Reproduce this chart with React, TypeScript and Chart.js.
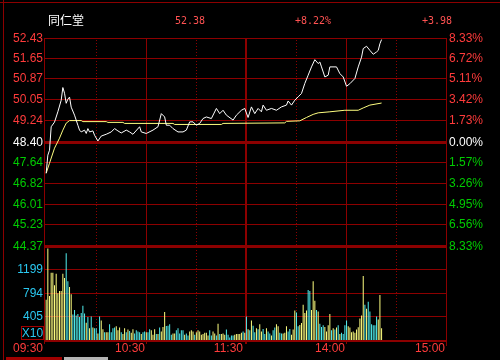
import { useEffect, useRef } from "react";
import { Chart, registerables } from "chart.js";

Chart.register(...registerables);

// ---- header ----
const stockName = "同仁堂";
const lastPrice = "52.38";
const changePct = "+8.22%";
const changeAmt = "+3.98";
const prevClose = 48.4;

// ---- axis ticks ----
const priceTicks = [52.43, 51.65, 50.87, 50.05, 49.24, 48.4, 47.64, 46.82, 46.01, 45.23, 44.37];
const priceTickLabels = ["52.43", "51.65", "50.87", "50.05", "49.24", "48.40", "47.64", "46.82", "46.01", "45.23", "44.37"];
const pctTickLabels = ["8.33%", "6.72%", "5.11%", "3.42%", "1.73%", "0.00%", "1.57%", "3.26%", "4.95%", "6.56%", "8.33%"];
const volTicks = [405, 794, 1199];
const volTop = 1598;
const volUnit = "X10";
const timeTicks = [0, 60, 120, 180, 240];
const timeLabels = ["09:30", "10:30", "11:30", "14:00", "15:00"];
const halfHourTicks = [30, 90, 150, 210];

// ---- price line (minute index, price) ----
const priceMinutes = [0, 1, 2, 3, 5, 7, 9, 10, 11, 12, 13, 14, 15, 17, 19, 20, 21, 23, 24, 25, 26, 28, 29, 31, 33, 36, 39, 41, 43, 45, 48, 50, 52, 56, 57, 60, 64, 67, 69, 71, 72, 74, 76, 79, 82, 84, 86, 88, 90, 92, 94, 96, 99, 102, 104, 106, 108, 112, 114, 117, 119, 121, 123, 125, 127, 129, 130, 132, 135, 138, 141, 144, 145, 147, 149, 151, 153, 155, 157, 159, 161, 163, 164, 165, 167, 169, 170, 174, 176, 178, 180, 182, 185, 187, 189, 190, 192, 194, 196, 198, 199, 200, 201];
const priceValues = [47.19, 47.89, 48.08, 48.99, 49.17, 49.57, 50.02, 50.51, 50.29, 49.9, 50.06, 50.14, 49.75, 49.44, 49.05, 48.86, 48.79, 48.86, 48.73, 48.92, 48.79, 48.83, 48.66, 48.44, 48.63, 48.7, 48.79, 48.92, 48.83, 48.75, 48.86, 48.79, 48.7, 48.99, 48.79, 48.73, 48.86, 48.99, 49.5, 49.37, 49.05, 49.05, 48.92, 48.79, 48.79, 48.86, 49.18, 49.18, 49.05, 49.12, 49.31, 49.37, 49.31, 49.7, 49.5, 49.63, 49.44, 49.25, 49.44, 49.63, 49.7, 49.35, 49.76, 49.5, 49.7, 49.57, 49.83, 49.63, 49.7, 49.63, 49.76, 49.83, 49.99, 49.83, 50.02, 50.15, 50.28, 50.67, 50.99, 51.31, 51.59, 51.44, 51.5, 51.31, 50.92, 50.99, 51.31, 51.31, 51.05, 50.92, 50.56, 50.66, 50.86, 51.31, 51.69, 52.02, 52.11, 51.95, 51.8, 51.89, 51.95, 52.21, 52.37];

// ---- average price line ----
const avgMinutes = [0, 2, 5, 8, 10, 12, 14, 21, 22, 36, 37, 46, 47, 76, 77, 105, 106, 143, 144, 152, 156, 160, 163, 170, 179, 187, 190, 194, 201];
const avgValues = [47.19, 47.58, 48.16, 48.55, 48.86, 49.13, 49.23, 49.23, 49.19, 49.19, 49.16, 49.16, 49.12, 49.12, 49.08, 49.08, 49.12, 49.14, 49.2, 49.22, 49.35, 49.47, 49.53, 49.57, 49.63, 49.63, 49.72, 49.83, 49.91];

// ---- volume per minute (x10) and direction (Y = up, C = down) ----
const volume = [
  683, 1554, 749, 1143, 1143, 932, 1127, 794, 833, 833,
  1127, 1055, 1476, 999, 899, 777, 433, 511, 416, 444,
  389, 461, 583, 450, 294, 389, 200, 400, 211, 200,
  200, 111, 400, 333, 183, 133, 133, 133, 266, 133,
  200, 211, 233, 167, 211, 133, 100, 200, 133, 178,
  155, 122,
  183, 111, 167, 144, 133, 100, 133, 144, 133, 133,
  183, 167, 89, 183, 100, 100, 211, 144, 222, 477,
  239, 244, 266, 89, 111, 111, 167, 200, 111, 167,
  167, 89, 111, 78, 144, 167, 144, 89, 133, 167,
  144, 89, 100, 122, 122, 78, 167, 78, 144, 111,
  78, 278, 100, 100, 111, 89, 178, 89, 44, 78,
  78, 89, 100, 100, 100, 122, 144, 122, 400, 183,
  167, 333, 244, 133, 200, 183, 266, 144, 189, 100,
  200, 144, 111, 78, 167, 211, 266, 233, 122, 111,
  111, 122, 233, 144, 189, 89, 178, 500, 466,
  233, 255, 289, 600, 461, 500, 849, 833, 511, 999,
  666, 511, 483, 278, 222, 250, 222, 144, 250, 444,
  167, 200, 178, 211, 250, 100, 122, 100, 250, 333,
  233, 211, 133, 144, 122, 178, 216, 366, 416, 1088,
  600, 533, 649, 483, 266, 250, 250, 400, 350, 766, 200,
];
const volDir =
  "YYYYYYYYYYYYCCYYCCCCCCCCYCYCYCCYCYYCYYCCCCYYYCYYCYCY" +
  "YCCCCYCCYC" + "CYYYCYCYYY" + "CCCCYYCCCC" + "CYCCYYYCYY" + "YYYYYYCCYY" +
  "CYCYYYCCCC" + "CYYYYYCYCY" + "CYCCYCYYCC" + "YCCYCCYYCC" + "YYYCCYYYC" +
  "CYYYYYCCYY" + "YCYCCCYYYY" + "CYCYCYCCCC" + "YYYYYYYYYY" + "CYCCCCCCYYY";

// ---- styles ----
const GRID = "#8c0000";
const RED = "#ff3b3b";
const HEAD_RED = "#ff5252";
const GREEN = "#00cc00";
const CYAN = "#2ac8f0";
const UP = "#ffff80";
const DOWN = "#50f0f0";
const PRICE_FRAC = 208 / 302;

const deco = {
  id: "deco",
  beforeDraw(chart: any) {
    const ctx = chart.ctx;
    ctx.save();
    ctx.fillStyle = "#000";
    ctx.fillRect(0, 0, chart.width, chart.height);
    ctx.restore();
  },
  beforeDatasetsDraw(chart: any) {
    const ctx = chart.ctx;
    const { left, right, top, bottom } = chart.chartArea;
    const x = chart.scales.x;
    const y = chart.scales.y;
    const yv = chart.scales.yv;
    ctx.save();
    ctx.fillStyle = GRID;
    priceTicks.forEach((v, i) => {
      const py = Math.round(y.getPixelForValue(v));
      const thick = v === prevClose || i === priceTicks.length - 1;
      if (thick) ctx.fillRect(left, py - 1, right - left, 3);
      else ctx.fillRect(left, py, right - left, 1);
    });
    volTicks.forEach((v) => {
      const py = Math.round(yv.getPixelForValue(v));
      ctx.fillRect(left, py, right - left, 1);
    });
    ctx.fillRect(left, bottom, right - left, 2);
    ctx.fillRect(left, top, 1, bottom - top + 4);
    ctx.fillRect(right - 1, top, 1, bottom - top + 6);
    [60, 120, 180].forEach((m) => {
      const px = Math.floor(x.getPixelForValue(m));
      if (m === 120) ctx.fillRect(px - 1, top, 2, bottom - top + 4);
      else ctx.fillRect(px, top, 1, bottom - top + 4);
    });
    halfHourTicks.forEach((m) => {
      const px = Math.floor(x.getPixelForValue(m));
      for (let yy = top + 2; yy < bottom; yy += 3) ctx.fillRect(px, yy, 1, 1);
    });
    ctx.restore();
  },
  afterDraw(chart: any) {
    const ctx = chart.ctx;
    const { left, right, bottom } = chart.chartArea;
    const x = chart.scales.x;
    const y = chart.scales.y;
    const yv = chart.scales.yv;
    ctx.save();
    ctx.fillStyle = GRID;
    ctx.fillRect(0, 2, chart.width, 1);
    ctx.fillRect(3, 0, 1, chart.height);
    ctx.textBaseline = "alphabetic";
    ctx.textAlign = "left";
    ctx.fillStyle = "#ffffff";
    ctx.font = "12px 'Noto Sans CJK SC'";
    ctx.fillText(stockName, 48, 25);
    ctx.font = "10px 'DejaVu Sans Mono'";
    ctx.fillStyle = HEAD_RED;
    ctx.fillText(lastPrice, 175, 24);
    ctx.fillText(changePct, 295, 24);
    ctx.fillText(changeAmt, 422, 24);
    ctx.font = "12px 'Liberation Sans'";
    ctx.textBaseline = "middle";
    priceTicks.forEach((v, i) => {
      const py = Math.round(y.getPixelForValue(v)) + 0.5;
      const col = v > prevClose ? RED : v < prevClose ? GREEN : "#ffffff";
      ctx.fillStyle = col;
      ctx.textAlign = "right";
      ctx.fillText(priceTickLabels[i], left - 1, py);
      ctx.textAlign = "left";
      ctx.fillText(pctTickLabels[i], right + 2, py);
    });
    ctx.fillStyle = CYAN;
    ctx.textAlign = "right";
    volTicks.forEach((v) => {
      const py = Math.round(yv.getPixelForValue(v)) + 0.5;
      ctx.fillText(String(v), left - 1, py);
    });
    ctx.strokeStyle = "#a00000";
    ctx.lineWidth = 1;
    ctx.strokeRect(21.5, 326.5, 22, 13);
    ctx.textAlign = "center";
    ctx.fillText(volUnit, 32.5, 334);
    ctx.fillStyle = RED;
    ctx.textAlign = "right";
    timeTicks.forEach((m, i) => {
      let px = Math.floor(x.getPixelForValue(m)) - 1;
      if (i === 0) px = left - 1;
      if (i === timeTicks.length - 1) px = right - 2;
      if (m === 120) px -= 2;
      ctx.fillText(timeLabels[i], px, bottom + 9);
    });
    ctx.fillStyle = "#a00000";
    ctx.fillRect(6, 357, 56, 3);
    ctx.fillStyle = "#b4b4b4";
    ctx.fillRect(64, 357, 44, 3);
    ctx.restore();
  },
};

export default function App() {
  const ref = useRef<HTMLCanvasElement | null>(null);
  useEffect(() => {
    document.body.style.margin = "0";
    document.body.style.background = "#000";
    const canvas = ref.current!;
    const priceMax = priceTicks[0];
    const priceMin = priceTicks[priceTicks.length - 1];
    const yMin = priceMax - (priceMax - priceMin) / PRICE_FRAC;
    const volMax = volTop / (1 - PRICE_FRAC);
    const chart = new Chart(canvas, {
      type: "bar",
      data: {
        datasets: [
          {
            type: "line",
            label: "price",
            data: priceMinutes.map((m, i) => ({ x: m, y: priceValues[i] })),
            borderColor: "#ffffff",
            borderWidth: 1,
            pointRadius: 0,
            tension: 0,
            yAxisID: "y",
            order: 0,
          } as any,
          {
            type: "line",
            label: "avg",
            data: avgMinutes.map((m, i) => ({ x: m, y: avgValues[i] })),
            borderColor: UP,
            borderWidth: 1,
            pointRadius: 0,
            tension: 0,
            yAxisID: "y",
            order: 1,
          } as any,
          {
            type: "bar",
            label: "volume",
            data: volume.map((v, i) => ({ x: i, y: v })),
            backgroundColor: volDir.split("").map((d) => (d === "Y" ? UP : DOWN)),
            barThickness: 1,
            inflateAmount: 0,
            borderWidth: 0,
            yAxisID: "yv",
            order: 2,
          } as any,
        ],
      },
      options: {
        animation: false,
        responsive: false,
        layout: { padding: { left: 44, right: 53, top: 38, bottom: 20 } },
        plugins: { legend: { display: false }, tooltip: { enabled: false } },
        scales: {
          x: { type: "linear", min: -1.3, max: 240.2, offset: false, display: false },
          y: { type: "linear", min: yMin, max: priceMax, display: false },
          yv: { type: "linear", min: 0, max: volMax, display: false },
        },
      },
      plugins: [deco],
    });
    return () => chart.destroy();
  }, []);
  return <canvas ref={ref} width={500} height={360} style={{ display: "block" }} />;
}
